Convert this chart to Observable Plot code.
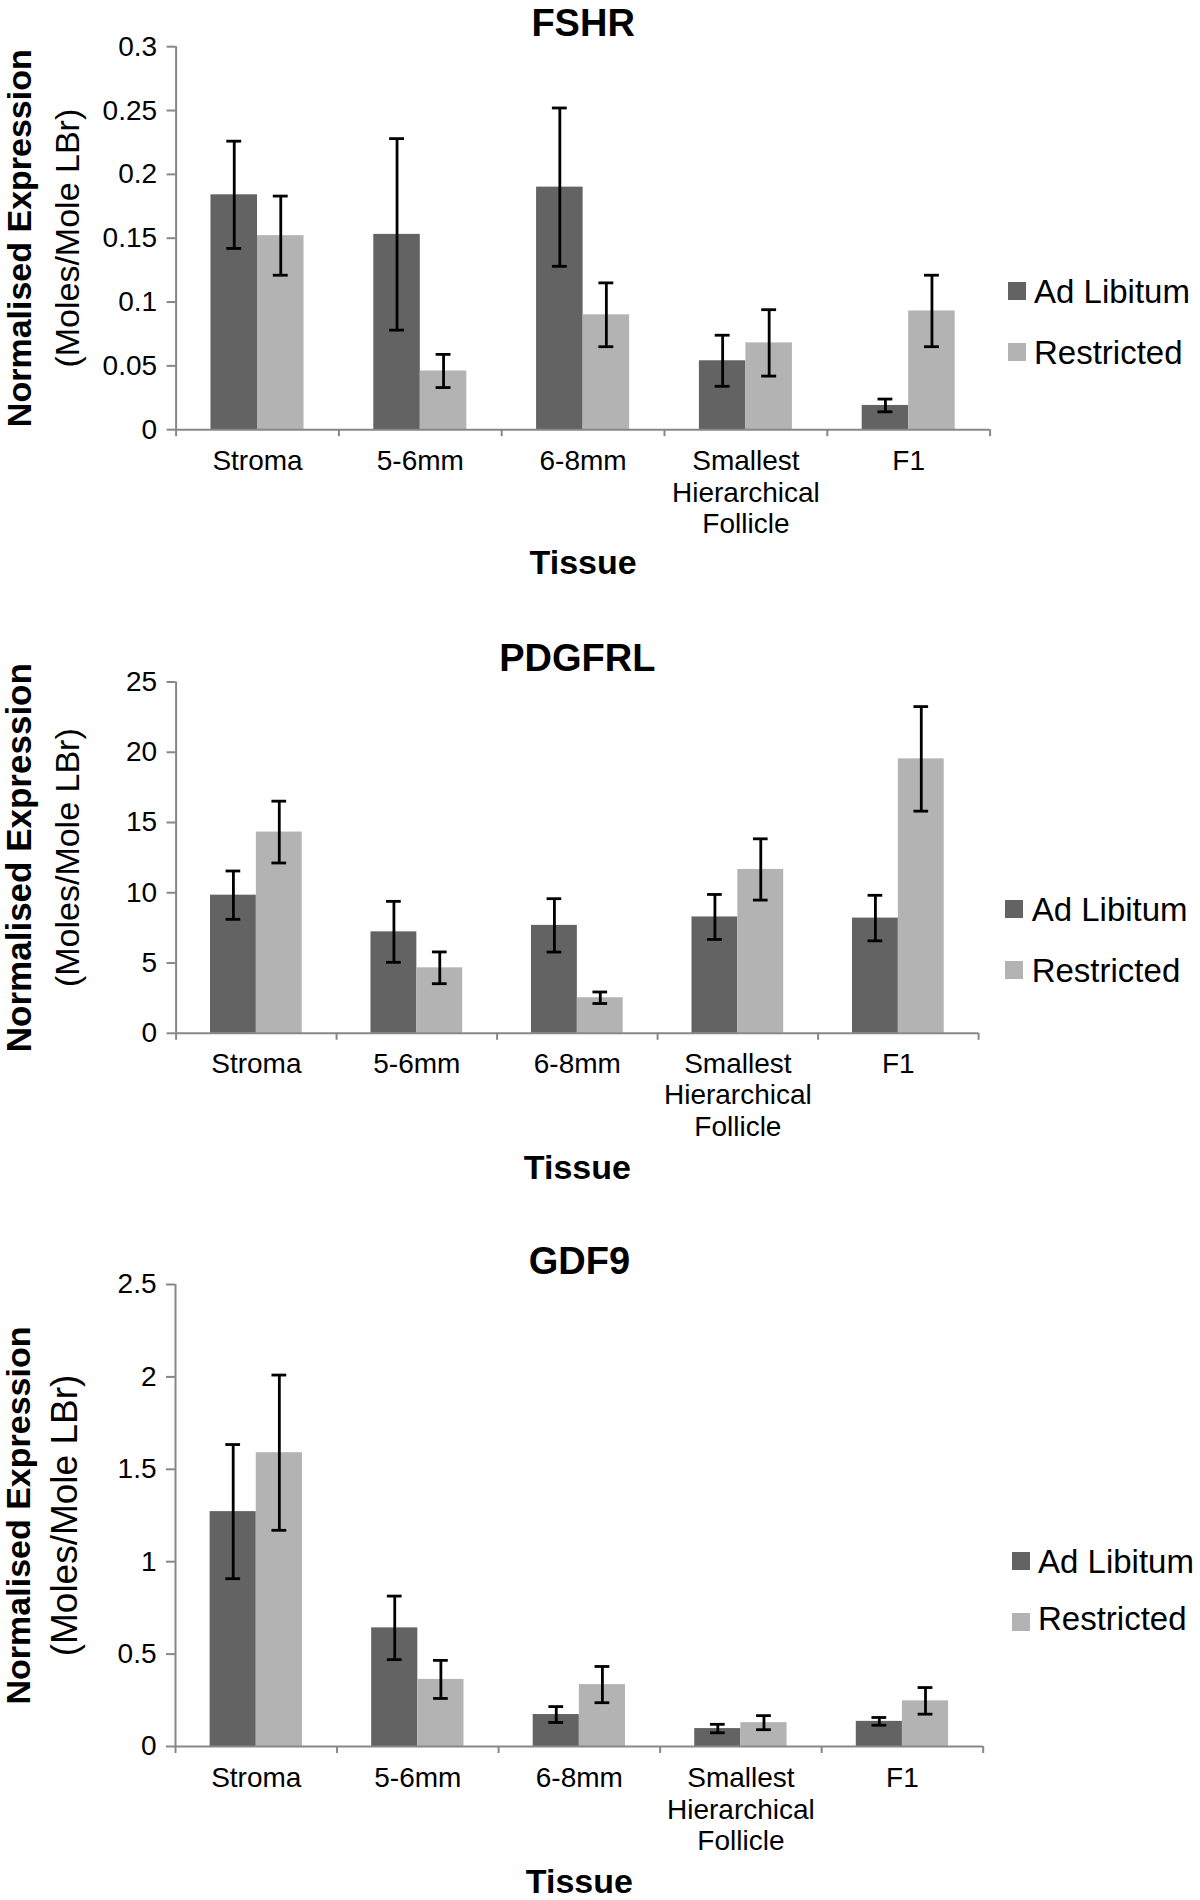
<!DOCTYPE html>
<html>
<head>
<meta charset="utf-8">
<script src="https://cdn.jsdelivr.net/npm/d3@7"></script>
<script src="https://cdn.jsdelivr.net/npm/@observablehq/plot@0.6"></script>
<style>
  html, body { margin: 0; padding: 0; background: #fff; }
  #root { position: relative; width: 1200px; height: 1900px; overflow: hidden;
          font-family: "Liberation Sans", Arial, Helvetica, sans-serif; }
  .panel { position: absolute; left: 0; width: 1200px; }
  .panel svg { display: block; overflow: visible; }
  .lg-swatch { position: absolute; width: 18px; height: 18px; }
  .lg-text { position: absolute; font-size: 33px; line-height: 33px; white-space: nowrap; color: #000; }
</style>
</head>
<body>
<div id="root"></div>
<script>
// ---------------- data ----------------
const categories = ["Stroma", "5-6mm", "6-8mm", "Smallest\nHierarchical\nFollicle", "F1"];
const series = ["Ad Libitum", "Restricted"];
const seriesColors = ["#636363", "#b3b3b3"];

const yTitleLine1 = "Normalised Expression";
const yTitleLine2 = "(Moles/Mole LBr)";
const xTitle = "Tissue";

// FSHR
const fshrAdLib        = [0.184, 0.153, 0.190, 0.054, 0.019];
const fshrAdLibErr     = [0.042, 0.075, 0.062, 0.020, 0.005];
const fshrRestricted    = [0.152, 0.046, 0.090, 0.068, 0.093];
const fshrRestrictedErr = [0.031, 0.013, 0.025, 0.026, 0.028];
const fshrTicks = [0, 0.05, 0.1, 0.15, 0.2, 0.25, 0.3];

// PDGFRL
const pdgfrlAdLib        = [9.83, 7.22, 7.68, 8.28, 8.20];
const pdgfrlAdLibErr     = [1.72, 2.17, 1.90, 1.60, 1.62];
const pdgfrlRestricted    = [14.32, 4.66, 2.53, 11.66, 19.53];
const pdgfrlRestrictedErr = [2.20, 1.13, 0.41, 2.18, 3.72];
const pdgfrlTicks = [0, 5, 10, 15, 20, 25];

// GDF9
const gdf9AdLib        = [1.271, 0.642, 0.173, 0.097, 0.136];
const gdf9AdLibErr     = [0.363, 0.172, 0.043, 0.023, 0.021];
const gdf9Restricted    = [1.590, 0.363, 0.335, 0.129, 0.247];
const gdf9RestrictedErr = [0.420, 0.103, 0.098, 0.038, 0.072];
const gdf9Ticks = [0, 0.5, 1, 1.5, 2, 2.5];

// ---------------- layout ----------------
const FONT = '"Liberation Sans", Arial, Helvetica, sans-serif';
const AXIS_GRAY = "#878787";

const panels = [
  {title: "FSHR", values: [fshrAdLib, fshrRestricted], errors: [fshrAdLibErr, fshrRestrictedErr], ticks: fshrTicks,
   top: 0, height: 600, mt: 46.2, mb: 170.8, ml: 175.6, mr: 210.4,
   titleDy: -11, tissueDy: 144, labelPad: 18.5, y1Dx: -156, y2Dx: -108, y1Size: 34, y2Size: 34,
   legend: {swX: 1007.6, txX: 1034, baselines: [303.4, 364.4], swTops: [282, 343]}},
  {title: "PDGFRL", values: [pdgfrlAdLib, pdgfrlRestricted], errors: [pdgfrlAdLibErr, pdgfrlRestrictedErr], ticks: pdgfrlTicks,
   top: 600, height: 630, mt: 81.5, mb: 197.2, ml: 175.6, mr: 221.9,
   titleDy: -11.5, tissueDy: 146, labelPad: 17.5, y1Dx: -156, y2Dx: -108, y1Size: 35, y2Size: 34,
   legend: {swX: 1004.5, txX: 1031.7, baselines: [920.7, 981.5], swTops: [900, 961]}},
  {title: "GDF9", values: [gdf9AdLib, gdf9Restricted], errors: [gdf9AdLibErr, gdf9RestrictedErr], ticks: gdf9Ticks,
   top: 1230, height: 670, mt: 54, mb: 154, ml: 175, mr: 217.3,
   titleDy: -11, tissueDy: 146, labelPad: 18.5, y1Dx: -156, y2Dx: -110, y1Size: 34, y2Size: 37,
   legend: {swX: 1011.7, txX: 1038, baselines: [1573.3, 1630], swTops: [1552, 1613]}}
];

// position of each series bar inside its category (fraction of the category width)
const inner = d3.scaleBand().domain(series).range([0, 1]).paddingInner(0).paddingOuter(0.75);
const bw = inner.bandwidth();
const capHalf = bw * 0.16;

const root = document.getElementById("root");

for (const p of panels) {
  const rows = [];
  categories.forEach((c, i) => {
    series.forEach((s, j) => {
      rows.push({cat: c, i, s, v: p.values[j][i], e: p.errors[j][i]});
    });
  });
  const left = d => d.i + inner(d.s);
  const center = d => d.i + inner(d.s) + bw / 2;
  const yMax = p.ticks[p.ticks.length - 1];

  const chart = Plot.plot({
    width: 1200,
    height: p.height,
    marginTop: p.mt, marginBottom: p.mb, marginLeft: p.ml, marginRight: p.mr,
    x: {domain: [0, categories.length], axis: null, label: null},
    y: {domain: [0, yMax], axis: null, label: null},
    color: {domain: series, range: seriesColors},
    style: {fontFamily: FONT, color: "#000", background: "#fff", overflow: "visible"},
    marks: [
      Plot.rect(rows, {x1: left, x2: d => left(d) + bw, y1: 0, y2: "v", fill: "s"}),
      Plot.ruleY([0], {stroke: AXIS_GRAY, strokeWidth: 2}),
      Plot.ruleX([0], {stroke: AXIS_GRAY, strokeWidth: 2}),
      // category boundary tick marks
      Plot.axisX({ticks: d3.range(categories.length + 1), tickSize: 7, tickFormat: () => "",
                  stroke: AXIS_GRAY, strokeWidth: 2, label: null}),
      // category labels
      Plot.axisX({ticks: categories.map((c, i) => i + 0.5), tickSize: 0, tickPadding: p.labelPad,
                  tickFormat: v => categories[Math.floor(v)], fontSize: 28, lineHeight: 1.12,
                  fill: "#000", label: null}),
      Plot.axisY({ticks: p.ticks, tickFormat: d => String(d), tickSize: 9, tickPadding: 10,
                  fontSize: 28, stroke: AXIS_GRAY, strokeWidth: 2, fill: "#000", label: null}),
      // error bars
      Plot.ruleX(rows, {x: center, y1: d => d.v - d.e, y2: d => d.v + d.e, stroke: "#000", strokeWidth: 2.8}),
      Plot.ruleY(rows, {x1: d => center(d) - capHalf, x2: d => center(d) + capHalf, y: d => d.v + d.e,
                        stroke: "#000", strokeWidth: 2.8}),
      Plot.ruleY(rows, {x1: d => center(d) - capHalf, x2: d => center(d) + capHalf, y: d => d.v - d.e,
                        stroke: "#000", strokeWidth: 2.8}),
      // titles
      Plot.text([p.title], {frameAnchor: "top", text: d => d, lineAnchor: "bottom", textAnchor: "middle",
                            dy: p.titleDy, fontSize: 38, fontWeight: "bold", fill: "#000"}),
      Plot.text([xTitle], {frameAnchor: "bottom", text: d => d, lineAnchor: "bottom", textAnchor: "middle",
                           dy: p.tissueDy, fontSize: 34, fontWeight: "bold", fill: "#000"}),
      Plot.text([yTitleLine1], {frameAnchor: "left", text: d => d, rotate: -90, textAnchor: "middle",
                                lineAnchor: "middle", dx: p.y1Dx, fontSize: p.y1Size, fontWeight: "bold", fill: "#000"}),
      Plot.text([yTitleLine2], {frameAnchor: "left", text: d => d, rotate: -90, textAnchor: "middle",
                                lineAnchor: "middle", dx: p.y2Dx, fontSize: p.y2Size, fill: "#000"})
    ]
  });

  const div = document.createElement("div");
  div.className = "panel";
  div.style.top = p.top + "px";
  div.style.height = p.height + "px";
  div.appendChild(chart);
  root.appendChild(div);

  // legend
  series.forEach((s, j) => {
    const sw = document.createElement("div");
    sw.className = "lg-swatch";
    sw.style.left = p.legend.swX + "px";
    sw.style.top = p.legend.swTops[j] + "px";
    sw.style.background = seriesColors[j];
    root.appendChild(sw);
    const tx = document.createElement("div");
    tx.className = "lg-text";
    tx.style.left = p.legend.txX + "px";
    tx.style.top = (p.legend.baselines[j] - 0.8465 * 33) + "px";
    tx.textContent = s;
    root.appendChild(tx);
  });
}
</script>
</body>
</html>
